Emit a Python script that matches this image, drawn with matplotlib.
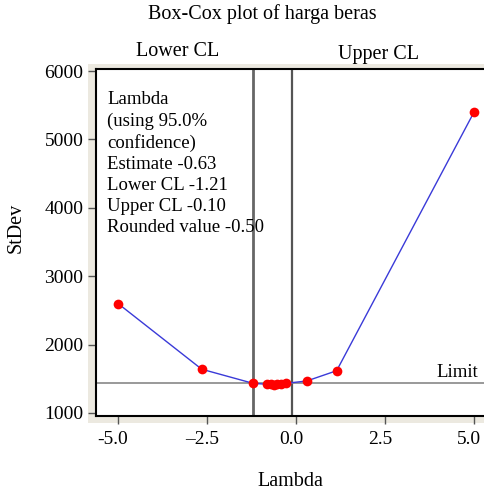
import matplotlib
matplotlib.use("Agg")
import matplotlib.pyplot as plt
from matplotlib.patches import Rectangle
import matplotlib.transforms as mtransforms

plt.rcParams['font.family'] = ['Liberation Serif', 'DejaVu Serif']

# Data
lambdas = [-5.0, -2.65, -1.21, -0.82, -0.71, -0.62, -0.53, -0.43, -0.28, 0.30, 1.14, 5.0]
stdevs = [2600, 1640, 1434, 1420, 1418, 1416, 1418, 1422, 1434, 1468, 1618, 5400]
lower_cl = -1.21
upper_cl = -0.10
limit = 1443
xticks = [-5.0, -2.5, 0.0, 2.5, 5.0]
xticklabels = ["-5.0", "\u20132.5", "0.0", "2.5", "5.0"]
yticks = [1000, 2000, 3000, 4000, 5000, 6000]
info_lines = ["Lambda", "(using 95.0%", "confidence)", "Estimate -0.63",
              "Lower CL -1.21", "Upper CL -0.10", "Rounded value -0.50"]

W, H = 484, 493
fig = plt.figure(figsize=(W / 100, H / 100), dpi=100)

# beige frame behind axes
fig.patches.append(Rectangle((88 / W, (H - 423) / H), 1 - 88 / W, (423 - 64) / H,
                             transform=fig.transFigure, facecolor='#ECE9E0',
                             edgecolor='none', zorder=-5))

ax = fig.add_axes([96 / W, (H - 416) / H, 399.4 / W, (416 - 68.5) / H])
ax.set_zorder(1)
ax.set_facecolor('white')
ax.set_xlim(-5.62, 5.6)
ax.set_ylim(956, 6037)

ax.axvline(lower_cl, color='#666666', lw=2.0, zorder=2)
ax.axvline(upper_cl, color='#555555', lw=1.6, zorder=2)
ax.axhline(limit, color='#888888', lw=1.2, zorder=2)

ax.plot(lambdas, stdevs, color='#3A3AD8', lw=1.0, zorder=3)
ax.plot(lambdas, stdevs, 'o', color='#FF0000', markersize=7, markeredgewidth=0, zorder=4)

ax.set_xticks(xticks)
ax.set_xticklabels(xticklabels)
ax.set_yticks(yticks)
ax.tick_params(direction='out', length=6, width=1, color='#555555', labelsize=14)
ax.tick_params(axis='y', pad=3)
ax.tick_params(axis='x', pad=5)
shift = mtransforms.ScaledTranslation(-5 / 100, 0, fig.dpi_scale_trans)
for lbl in ax.get_xticklabels():
    lbl.set_transform(lbl.get_transform() + shift)
for s in ['left', 'bottom', 'top', 'right']:
    ax.spines[s].set_linewidth(1.5)
    ax.spines[s].set_color('black')

FS = 14.5
ax.text(0.0275, 0.935, "\n".join(info_lines), transform=ax.transAxes, fontsize=13.5,
        va='top', ha='left', linespacing=1.31)
ax.text(5.13, limit + 20, "Limit", fontsize=13.5, ha='right', va='bottom')

fig.text(262 / W, 1 - 14 / H, "Box-Cox plot of harga beras", fontsize=FS, ha='center', va='center')
fig.text(178 / W, 1 - 52 / H, "Lower CL", fontsize=FS, ha='center', va='center')
fig.text(379 / W, 1 - 55 / H, "Upper CL", fontsize=FS, ha='center', va='center')
fig.text(16 / W, 1 - 228 / H, "StDev", fontsize=FS, ha='center', va='center', rotation=90)
fig.text(290 / W, 1 - 482 / H, "Lambda", fontsize=FS, ha='center', va='center')

fig.savefig("out.png", dpi=100)
